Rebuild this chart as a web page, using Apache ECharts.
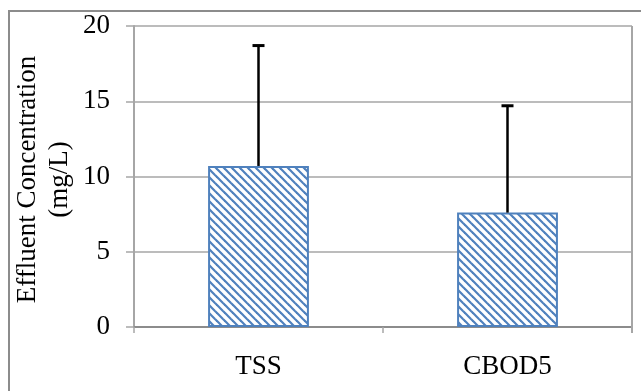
<!DOCTYPE html>
<html>
<head>
<meta charset="utf-8">
<script src="https://cdn.jsdelivr.net/npm/echarts@6/dist/echarts.min.js"></script>
<style>
html,body{margin:0;padding:0;background:#fff;}
#chart{width:641px;height:391px;}
</style>
</head>
<body>
<div id="chart"></div>
<script>
var categories = ['TSS', 'CBOD5'];
var means = [10.7, 7.6];
var errors = [8.0, 7.1];
var yTicks = [0, 5, 10, 15, 20];

function makePattern() {
  var c = document.createElement('canvas');
  c.width = 8; c.height = 8;
  var ctx = c.getContext('2d');
  ctx.fillStyle = '#ffffff';
  ctx.fillRect(0, 0, 8, 8);
  ctx.strokeStyle = '#4F81BD';
  ctx.lineWidth = 2.2;
  ctx.lineCap = 'square';
  [-8, 0, 8].forEach(function (k) {
    ctx.beginPath();
    ctx.moveTo(-2, -2 + k);
    ctx.lineTo(10, 10 + k);
    ctx.stroke();
  });
  return c;
}

var chart = echarts.init(document.getElementById('chart'), null, {renderer: 'canvas'});
var font = '"Liberation Serif", "Times New Roman", serif';
var errData = categories.map(function (c, i) { return [i, means[i], means[i] + errors[i]]; });

chart.setOption({
  animation: false,
  backgroundColor: '#ffffff',
  grid: {left: 134, right: 9, top: 26, bottom: 64, containLabel: false, outerBoundsMode: 'none'},
  graphic: [
    {type: 'rect', shape: {x: 9, y: 11, width: 800, height: 600},
     style: {fill: 'none', stroke: '#8c8c8c', lineWidth: 2}, silent: true, z: 0},
    {type: 'line', shape: {x1: 632, y1: 26, x2: 632, y2: 333},
     style: {stroke: '#a6a6a6', lineWidth: 2}, silent: true, z: 5}
  ],
  xAxis: {
    type: 'category',
    data: categories,
    boundaryGap: true,
    axisLine: {show: true, lineStyle: {color: '#8c8c8c', width: 2}},
    axisTick: {show: true, alignWithLabel: false, length: 6, lineStyle: {color: '#a6a6a6', width: 1.5}},
    axisLabel: {color: '#000', fontFamily: font, fontSize: 27, margin: 26}
  },
  yAxis: {
    type: 'value',
    min: yTicks[0],
    max: yTicks[yTicks.length - 1],
    interval: 5,
    name: 'Effluent Concentration\n(mg/L)',
    nameLocation: 'middle',
    nameMoveOverlap: false,
    nameGap: 58,
    nameRotate: 90,
    nameTextStyle: {color: '#000', fontFamily: font, fontSize: 27, lineHeight: 32, padding: [0, 6, 0, 0]},
    axisLine: {show: true, lineStyle: {color: '#a6a6a6', width: 2}},
    axisTick: {show: true, length: 8, lineStyle: {color: '#a6a6a6', width: 1.5}},
    axisLabel: {color: '#000', fontFamily: font, fontSize: 27, margin: 24},
    splitLine: {show: true, lineStyle: {color: '#a6a6a6', width: 1.5}}
  },
  series: [
    {
      type: 'bar',
      data: means,
      barWidth: '40.5%',
      itemStyle: {
        color: {image: makePattern(), repeat: 'repeat'},
        borderColor: '#4F81BD',
        borderWidth: 2
      },
      z: 2
    },
    {
      type: 'custom',
      data: errData,
      z: 3,
      renderItem: function (params, api) {
        var base = api.coord([api.value(0), api.value(1)]);
        var top = api.coord([api.value(0), api.value(2)]);
        var half = 6;
        return {
          type: 'group',
          children: [
            {type: 'line', shape: {x1: base[0], y1: base[1], x2: top[0], y2: top[1]},
             style: {stroke: '#000', lineWidth: 2.5}},
            {type: 'line', shape: {x1: top[0] - half, y1: top[1], x2: top[0] + half, y2: top[1]},
             style: {stroke: '#000', lineWidth: 3}}
          ]
        };
      }
    }
  ]
});
</script>
</body>
</html>
